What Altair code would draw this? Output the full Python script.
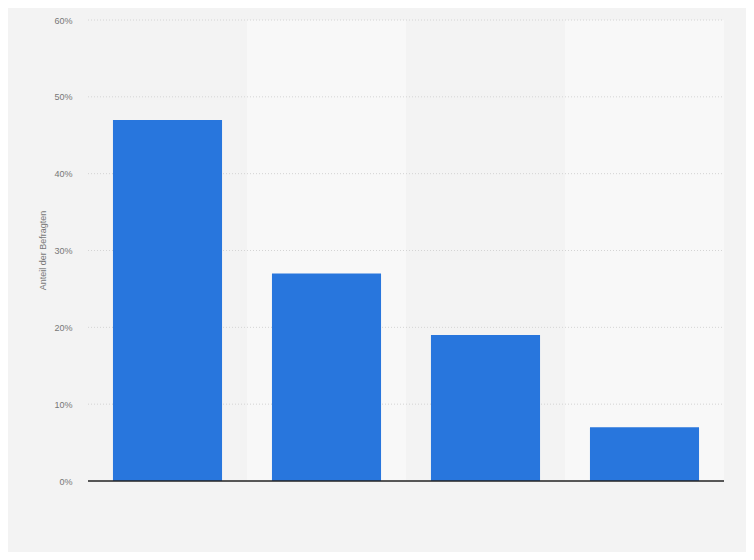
import altair as alt
import pandas as pd

categories = ["A", "B", "C", "D"]
values = [47, 27, 19, 7]
band_colors = ["#f3f3f3", "#f8f8f8", "#f3f3f3", "#f8f8f8"]
y_ticks = [0, 10, 20, 30, 40, 50, 60]

df = pd.DataFrame({"cat": categories, "val": values, "band": band_colors})
grid_df = pd.DataFrame({"t": y_ticks[1:]})
base_df = pd.DataFrame({"t": [0]})

xscale = alt.Scale(domain=categories, paddingInner=0, paddingOuter=0)
yscale = alt.Scale(domain=[0, 60], nice=False)

yaxis = alt.Axis(values=y_ticks, labelExpr="datum.value + '%'",
                 title="Anteil der Befragten", ticks=False, domain=False,
                 grid=False, labelPadding=16, labelColor="#777777", labelFontSize=9,
                 labelFont="Liberation Sans",
                 titleColor="#777777", titleFontSize=9, titleFontWeight="normal",
                 titleFont="Liberation Sans", titleX=-46, titleY=230,
                 titleAngle=-90, titleAlign="center", titleBaseline="middle")

bands = alt.Chart(df).mark_rect().encode(
    x=alt.X("cat:N", scale=xscale, axis=None, sort=categories),
    y=alt.value(0),
    y2=alt.value(461),
    color=alt.Color("band:N", scale=None),
)

grid = alt.Chart(grid_df).mark_rule(color="#d4d4d4", strokeDash=[1, 2], strokeWidth=1).encode(
    x=alt.value(0),
    x2=alt.value(636),
    y=alt.Y("t:Q", scale=yscale, axis=yaxis),
)

bars = alt.Chart(df).mark_bar(width=alt.RelativeBandSize(0.686), color="#2876dd").encode(
    x=alt.X("cat:N", scale=xscale, sort=categories, axis=None),
    y=alt.Y("val:Q", scale=yscale, axis=yaxis),
)

baseline = alt.Chart(base_df).mark_rule(color="#222222", strokeWidth=1.3).encode(
    x=alt.value(0),
    x2=alt.value(636),
    y=alt.Y("t:Q", scale=yscale, axis=yaxis),
)

chart = alt.layer(bands, grid, bars, baseline).properties(
    width=636, height=461,
    background="#f3f3f3",
    padding={"left": 80, "top": 12, "right": 22, "bottom": 71},
    autosize=alt.AutoSizeParams(type="none"),
).configure_view(stroke=None, fill=None)

chart.save("out.html", embed_options={"renderer": "svg", "actions": False})
